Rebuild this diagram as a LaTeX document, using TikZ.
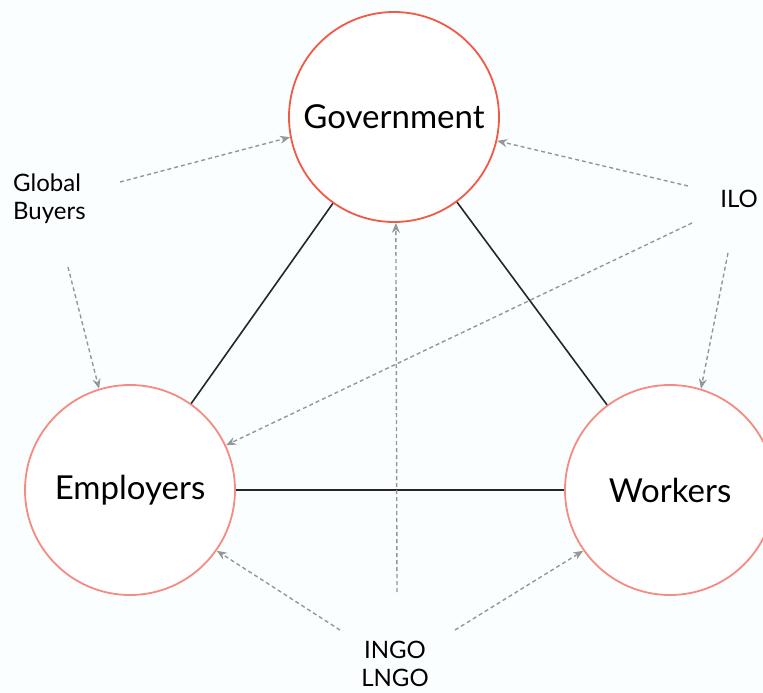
\documentclass[tikz,border=0pt]{standalone}
\usepackage{fontspec}
\setmainfont{Lato}
\usetikzlibrary{arrows.meta}
\definecolor{bgc}{RGB}{251,254,255}
\definecolor{govred}{RGB}{240,90,70}
\definecolor{pinkred}{RGB}{245,140,130}
\definecolor{arrgray}{RGB}{150,150,150}
\tikzset{
  actor/.style={circle, draw=#1, line width=1.8pt, fill=white, minimum size=210pt, inner sep=0pt, font=\fontsize{33}{36}\selectfont},
  tie/.style={draw=black!85, line width=1.6pt},
  infl/.style={draw=arrgray, line width=1.4pt, dash pattern=on 4pt off 3pt, -{Stealth[length=10pt,width=8pt]}},
  lbl/.style={font=\fontsize{24}{28}\selectfont, align=left, inner sep=0pt}
}
\begin{document}
\begin{tikzpicture}[x=1pt,y=-1pt]
\path[fill=bgc] (0,0) rectangle (763,693);
\useasboundingbox (0,0) rectangle (763,693);
\begin{scope}
\clip (0,0) rectangle (763,693);
\node[actor=govred] (gov) at (394,117) {Government};
\node[actor=pinkred] (emp) at (130,490) {Employers};
\node[actor=pinkred] (wrk) at (670,490) {Workers};
\end{scope}
\node[lbl, anchor=west] (gb) at (13,199) {Global\\Buyers};
\node[lbl] (ilo) at (739,199) {ILO};
\node[lbl, align=center] (ngo) at (395,664) {INGO\\LNGO};
\coordinate (gbA) at (120,182);
\coordinate (gbB) at (68,267);
\coordinate (iloA) at (688,186);
\coordinate (iloB) at (692,223);
\coordinate (iloC) at (728,253);
\coordinate (ngoA) at (340,630);
\coordinate (ngoB) at (397,592);
\coordinate (ngoC) at (455,630);
\draw[tie] (gov) -- (emp);
\draw[tie] (gov) -- (wrk);
\draw[tie] (emp) -- (wrk);
\draw[infl] (gbA) -- (gov.{191});
\draw[infl] (gbB) -- (emp.{107});
\draw[infl] (iloA) -- (gov.{-13});
\draw[infl] (iloB) -- (emp.{25});
\draw[infl] (iloC) -- (wrk.{73});
\draw[infl] (ngoA) -- (emp.{-35});
\draw[infl] (ngoB) -- (gov.{-89});
\draw[infl] (ngoC) -- (wrk.{-145});
\end{tikzpicture}
\end{document}
